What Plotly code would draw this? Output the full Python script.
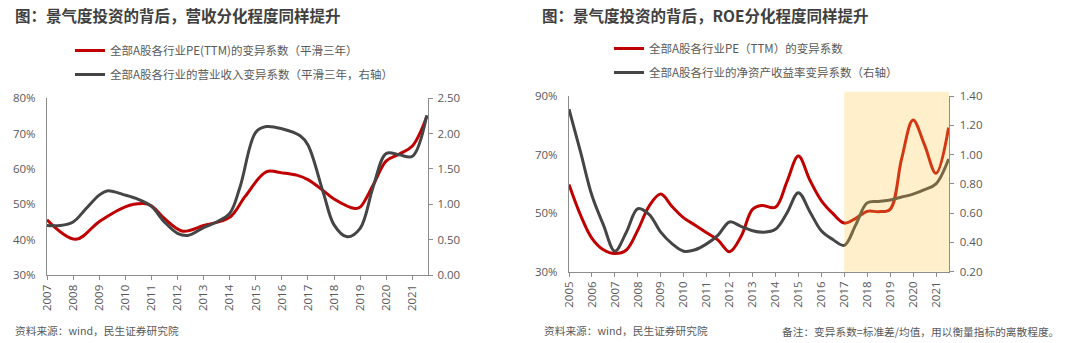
import plotly.graph_objects as go

W, H = 1080, 343

# ---------------- data: left chart ----------------
left_years = list(range(2007, 2022))
pe_l_x = [2007.0, 2008.1, 2009.0, 2010.0, 2010.7, 2011.0, 2011.5, 2012.2, 2013.0, 2014.0,
          2014.6, 2015.4, 2016.0, 2016.6, 2017.0, 2017.6, 2018.0, 2018.8, 2019.0, 2019.5,
          2020.0, 2020.5, 2021.0, 2021.55]
pe_l_y = [45.6, 40.1, 45.1, 49.3, 50.2, 49.6, 46.0, 42.4, 44.0, 46.3,
          52.3, 59.2, 58.9, 58.2, 57.0, 53.8, 51.5, 48.8, 49.2, 55.5,
          62.3, 64.2, 66.5, 74.8]
rev_l_x = [2007.0, 2007.5, 2008.0, 2008.5, 2009.0, 2009.3, 2010.0, 2010.5, 2011.0, 2011.5,
           2012.0, 2012.4, 2013.0, 2013.5, 2014.0, 2014.4, 2015.0, 2015.4, 2016.0, 2016.7,
           2017.0, 2017.6, 2018.0, 2018.5, 2019.0, 2019.5, 2020.0, 2020.5, 2021.0, 2021.55]
rev_l_y = [0.70, 0.70, 0.75, 0.94, 1.13, 1.19, 1.13, 1.07, 0.97, 0.75,
           0.59, 0.56, 0.67, 0.75, 0.87, 1.25, 2.02, 2.10, 2.07, 1.97,
           1.84, 1.15, 0.71, 0.54, 0.66, 1.25, 1.72, 1.70, 1.68, 2.26]

# ---------------- data: right chart ----------------
right_years = list(range(2005, 2022))
pe_r_x = [2005.0, 2005.5, 2006.0, 2006.5, 2007.0, 2007.5, 2008.0, 2008.5, 2009.0, 2009.5,
          2010.0, 2010.5, 2011.0, 2011.5, 2012.0, 2012.5, 2013.0, 2013.4, 2014.0, 2014.5,
          2015.0, 2015.5, 2016.0, 2016.5, 2017.0, 2017.5, 2018.0, 2018.5, 2019.0, 2019.5,
          2020.0, 2020.5, 2021.0, 2021.55]
pe_r_y = [59.8, 49.4, 41.4, 37.5, 36.2, 37.4, 44.2, 52.5, 56.5, 52.2,
          48.4, 45.9, 43.3, 40.8, 36.8, 42.0, 51.3, 52.6, 52.0, 60.7,
          69.5, 61.3, 54.3, 49.9, 46.6, 48.2, 50.6, 50.5, 51.3, 68.5,
          81.8, 73.3, 63.6, 79.2]
roe_r_x = [2005.0, 2005.5, 2006.0, 2006.5, 2007.0, 2007.5, 2008.0, 2008.5, 2009.0, 2009.5,
           2010.0, 2010.5, 2011.0, 2011.5, 2012.0, 2012.5, 2013.0, 2013.5, 2014.0, 2014.5,
           2015.0, 2015.5, 2016.0, 2016.5, 2017.0, 2017.5, 2018.0, 2018.5, 2019.0, 2019.5,
           2020.0, 2020.5, 2021.0, 2021.55]
roe_r_y = [1.31, 1.02, 0.72, 0.52, 0.34, 0.47, 0.63, 0.59, 0.47, 0.39,
           0.34, 0.35, 0.39, 0.45, 0.54, 0.51, 0.48, 0.47, 0.49, 0.60,
           0.74, 0.61, 0.48, 0.42, 0.38, 0.52, 0.67, 0.68, 0.69, 0.71,
           0.73, 0.76, 0.80, 0.97]

highlight_start = 2017
left_xmax = 2021.6
right_xmax = 2021.58

# ---------------- styling ----------------
RED = "#C00000"
GRAY = "#454545"
AXIS = "#8C8C8C"
TICK = "#595959"
FONT = "Open Sans, Noto Sans CJK SC, sans-serif"
CJK = "Noto Sans CJK SC, sans-serif"


def px_x(p):
    return p / W


def px_y(p):
    return 1 - p / H


fig = go.Figure()

line_kw = dict(mode="lines", line_shape="spline")

fig.add_trace(go.Scatter(x=pe_l_x, y=pe_l_y, xaxis="x", yaxis="y",
                         name="全部A股各行业PE(TTM)的变异系数（平滑三年）",
                         line=dict(color=RED, width=3, smoothing=1.0),
                         legend="legend", legendgroup="a", **line_kw))
fig.add_trace(go.Scatter(x=rev_l_x, y=rev_l_y, xaxis="x", yaxis="y3",
                         name="全部A股各行业的营业收入变异系数（平滑三年，右轴）",
                         line=dict(color=GRAY, width=3, smoothing=1.0),
                         legend="legend", legendgroup="b", **line_kw))
fig.add_trace(go.Scatter(x=pe_r_x, y=pe_r_y, xaxis="x2", yaxis="y2",
                         name="全部A股各行业PE（TTM）的变异系数",
                         line=dict(color=RED, width=3, smoothing=1.0),
                         legend="legend2", legendgroup="c", **line_kw))
fig.add_trace(go.Scatter(x=roe_r_x, y=roe_r_y, xaxis="x2", yaxis="y4",
                         name="全部A股各行业的净资产收益率变异系数（右轴）",
                         line=dict(color=GRAY, width=3, smoothing=1.0),
                         legend="legend2", legendgroup="d", **line_kw))

left_dom_x = [px_x(47), px_x(428)]
left_dom_y = [px_y(275), px_y(98.3)]
right_dom_x = [px_x(569), px_x(949.3)]
right_dom_y = [px_y(271.7), px_y(96)]

xcommon = dict(showline=True, linecolor=AXIS, linewidth=1.3, ticks="outside", ticklen=4,
               tickcolor=AXIS, tickangle=-90, tickfont=dict(family=FONT, size=11.5, color=TICK),
               showgrid=False, zeroline=False, fixedrange=True, automargin=False)
ycommon = dict(showline=True, linecolor=AXIS, linewidth=1.3, showgrid=False, zeroline=False,
               tickfont=dict(family=FONT, size=11.5, color=TICK), fixedrange=True,
               automargin=False)

fig.update_layout(
    width=W, height=H, margin=dict(l=0, r=0, t=0, b=0, autoexpand=False),
    paper_bgcolor="white", plot_bgcolor="rgba(0,0,0,0)",
    xaxis=dict(domain=left_dom_x, range=[left_years[0], left_xmax], anchor="y",
               tickvals=left_years, ticktext=[str(y) for y in left_years], **xcommon),
    yaxis=dict(domain=left_dom_y, range=[30, 80], tick0=30, dtick=10, ticksuffix="%",
               anchor="x", ticks="", ticklabelstandoff=8, **ycommon),
    yaxis3=dict(range=[0, 2.5], tick0=0, dtick=0.5, tickformat=".2f", overlaying="y",
                side="right", anchor="x", ticks="outside", ticklen=4, tickcolor=AXIS,
                ticklabelstandoff=2, **ycommon),
    xaxis2=dict(domain=right_dom_x, range=[right_years[0], right_xmax], anchor="y2",
                tickvals=right_years, ticktext=[str(y) for y in right_years], **xcommon),
    yaxis2=dict(domain=right_dom_y, range=[30, 90], tick0=30, dtick=20, ticksuffix="%",
                anchor="x2", ticks="", ticklabelstandoff=8, **ycommon),
    yaxis4=dict(range=[0.2, 1.4], tick0=0.2, dtick=0.2, tickformat=".2f", overlaying="y2",
                side="right", anchor="x2", ticks="outside", ticklen=4, tickcolor=AXIS,
                ticklabelstandoff=3, **ycommon),
    legend=dict(x=px_x(70), y=px_y(36), xanchor="left", yanchor="top",
                font=dict(family=CJK, size=11.5, color=TICK), itemwidth=30,
                tracegroupgap=5, bgcolor="rgba(0,0,0,0)"),
    legend2=dict(x=px_x(609), y=px_y(34), xanchor="left", yanchor="top",
                 font=dict(family=CJK, size=11.5, color=TICK), itemwidth=30,
                 tracegroupgap=5, bgcolor="rgba(0,0,0,0)"),
    showlegend=True,
)

# highlight band (drawn above, semi-transparent)
fig.add_shape(type="rect", xref="x2", yref="paper", x0=highlight_start, x1=right_xmax,
              y0=right_dom_y[0], y1=px_y(91.7), fillcolor="rgba(255,200,70,0.28)",
              line=dict(width=0), layer="above")

ann = [
    dict(x=px_x(13), y=px_y(15), text="<b>图：景气度投资的背后，营收分化程度同样提升</b>",
         font=dict(family=CJK, size=15.5, color="#404040")),
    dict(x=px_x(540), y=px_y(15), text="<b>图：景气度投资的背后，ROE分化程度同样提升</b>",
         font=dict(family=CJK, size=15.5, color="#404040")),
    dict(x=px_x(13), y=px_y(330), text="资料来源：wind，民生证券研究院",
         font=dict(family=CJK, size=10.7, color=TICK)),
    dict(x=px_x(542), y=px_y(330), text="资料来源：wind，民生证券研究院",
         font=dict(family=CJK, size=10.7, color=TICK)),
]
for a in ann:
    fig.add_annotation(xref="paper", yref="paper", xanchor="left", yanchor="middle",
                       showarrow=False, **a)
fig.add_annotation(xref="paper", yref="paper", x=px_x(1061), y=px_y(331), xanchor="right",
                   yanchor="middle", showarrow=False,
                   text="备注：变异系数=标准差/均值，用以衡量指标的离散程度。",
                   font=dict(family=CJK, size=10.7, color=TICK))

fig.write_html("out.html", config={"displayModeBar": False})
